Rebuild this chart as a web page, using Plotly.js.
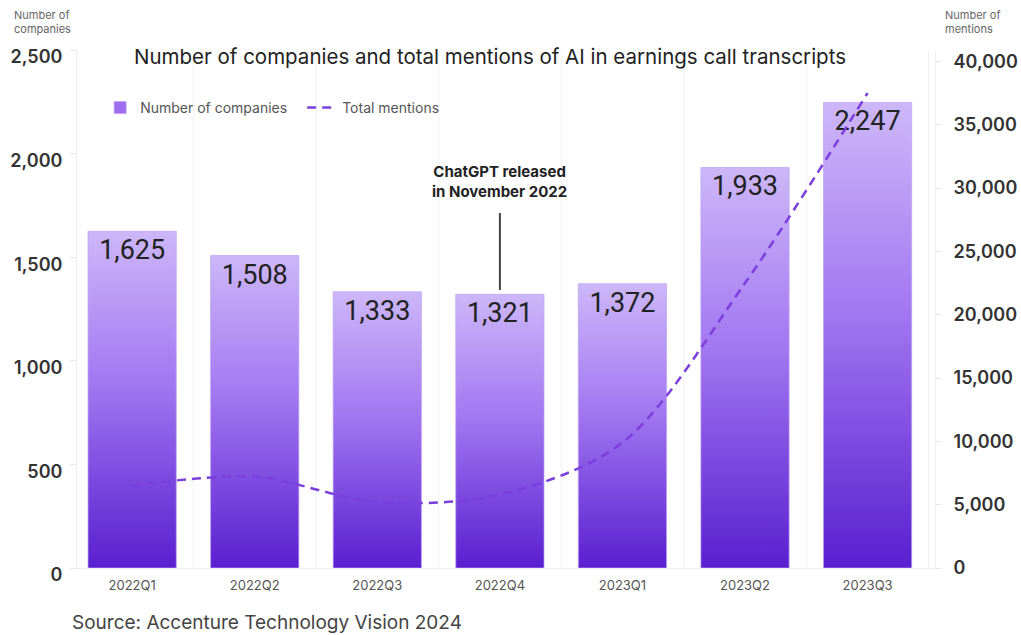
<!DOCTYPE html>
<html>
<head>
<meta charset="utf-8">
<script src="https://cdn.plot.ly/plotly-3.0.1.min.js"></script>
<style>
  html, body { margin: 0; padding: 0; background: #fff; }
  #chart { width: 1021px; height: 635px; }
</style>
</head>
<body>
<div id="chart"></div>
<script>
// data
const quarters = ["2022Q1", "2022Q2", "2022Q3", "2022Q4", "2023Q1", "2023Q2", "2023Q3"];
const companies = [1625, 1508, 1333, 1321, 1372, 1933, 2247];
const mentions = [6500, 7200, 5200, 5800, 9900, 22500, 37500];
const leftTicks = [0, 500, 1000, 1500, 2000, 2500];
const rightTicks = [0, 5000, 10000, 15000, 20000, 25000, 30000, 35000, 40000];

const FONT = "Inter, 'Noto Sans', sans-serif";
const PURPLE = "#7a3fdc";

let barTrace = {
  type: "bar",
  name: "Number of companies",
  x: quarters,
  y: companies,
  marker: { color: "#9d6ef0", line: { width: 1, color: "rgba(190,160,245,0.7)" } },
  texttemplate: "%{y:,}",
  textposition: "inside",
  insidetextanchor: "end",
  textfont: { family: "Roboto, " + FONT, size: 27, color: "#222" },
  hoverinfo: "skip",
};

let lineTrace = {
  type: "scatter",
  mode: "lines",
  name: "Total mentions",
  x: quarters,
  y: mentions,
  yaxis: "y2",
  line: { color: PURPLE, width: 2.5, dash: "9px,6px", shape: "spline", smoothing: 0.9 },
  hoverinfo: "skip",
};

let layout = {
  width: 1021,
  height: 635,
  margin: { l: 77, r: 86, t: 50, b: 67 },
  paper_bgcolor: "#fff",
  plot_bgcolor: "#fff",
  font: { family: FONT, color: "#333" },
  bargap: 0.28,
  showlegend: true,
  title: {
    text: "Number of companies and total mentions of AI in earnings call transcripts",
    font: { family: FONT, size: 20.5, color: "#222" },
    xref: "container",
    x: 490 / 1021,
    xanchor: "center",
    yref: "container",
    y: 1 - 57 / 635,
    yanchor: "middle",
  },
  legend: {
    orientation: "h",
    x: 0.027,
    xanchor: "left",
    y: 0.888,
    yanchor: "middle",
    entrywidth: 157,
    font: { family: FONT, size: 14, color: "#555" },
    bgcolor: "rgba(0,0,0,0)",
  },
  xaxis: {
    type: "category",
    range: [-0.45, 6.55],
    showgrid: true,
    tickson: "boundaries",
    gridcolor: "#f3f3f3",
    ticks: "",
    showline: true,
    linecolor: "#eeeeee",
    tickfont: { family: FONT, size: 13, color: "#555" },
    ticklabelstandoff: 5,
    zeroline: false,
    fixedrange: true,
  },
  yaxis: {
    range: [0, 2500],
    tickvals: leftTicks,
    tickformat: ",",
    showgrid: false,
    zeroline: false,
    showline: true,
    linecolor: "#eeeeee",
    ticks: "outside",
    ticklen: 6,
    tickcolor: "#e6e6e6",
    ticklabelstandoff: 4,
    ticklabelshift: 7,
    tickfont: { family: FONT, size: 18, color: "#333", weight: 600 },
  },
  yaxis2: {
    overlaying: "y",
    side: "right",
    range: [0, 40900],
    tickvals: rightTicks,
    tickformat: ",",
    showgrid: false,
    zeroline: false,
    showline: true,
    linecolor: "#eeeeee",
    ticks: "outside",
    ticklen: 5,
    tickcolor: "#e6e6e6",
    ticklabelstandoff: 9,
    tickfont: { family: FONT, size: 18, color: "#333", weight: 600 },
  },
  shapes: [
    {
      type: "line",
      xref: "x",
      x0: "2022Q4",
      x1: "2022Q4",
      yref: "paper",
      y0: (568 - 290) / 518,
      y1: (568 - 213) / 518,
      line: { color: "#444", width: 2 },
    },
  ],
  annotations: [
    {
      text: "ChatGPT released<br>in November 2022",
      xref: "x",
      x: "2022Q4",
      yref: "paper",
      y: (568 - 181) / 518,
      yanchor: "middle",
      showarrow: false,
      font: { family: FONT, size: 15, color: "#222", weight: 700 },
      align: "center",
    },
    {
      text: "Number of<br>companies",
      xref: "paper",
      x: (12 - 77) / 858,
      xanchor: "left",
      yref: "paper",
      y: (568 - 22) / 518,
      yanchor: "middle",
      align: "left",
      showarrow: false,
      font: { family: FONT, size: 11, color: "#666" },
    },
    {
      text: "Number of<br>mentions",
      xref: "paper",
      x: (943 - 77) / 858,
      xanchor: "left",
      yref: "paper",
      y: (568 - 22) / 518,
      yanchor: "middle",
      align: "left",
      showarrow: false,
      font: { family: FONT, size: 11, color: "#666" },
    },
    {
      text: "Source: Accenture Technology Vision 2024",
      xref: "paper",
      x: (70 - 77) / 858,
      xanchor: "left",
      yref: "paper",
      y: (568 - 622) / 518,
      yanchor: "middle",
      showarrow: false,
      font: { family: FONT, size: 19, color: "#444" },
    },
  ],
};

let config = { staticPlot: true, displayModeBar: false };

// vertical gradient for the bars and their legend swatch
let addGradient = (gd) => {
  const ns = "http://www.w3.org/2000/svg";
  const svg = gd.querySelector("svg.main-svg");
  let defs = svg.querySelector("defs");
  if (!defs) {
    defs = document.createElementNS(ns, "defs");
    svg.insertBefore(defs, svg.firstChild);
  }
  const grad = document.createElementNS(ns, "linearGradient");
  grad.setAttribute("id", "barGrad");
  grad.setAttribute("x1", "0");
  grad.setAttribute("y1", "0");
  grad.setAttribute("x2", "0");
  grad.setAttribute("y2", "1");
  [
    ["0%", "#cdb7f8"],
    ["45%", "#a277f1"],
    ["100%", "#5a1fd0"],
  ].forEach(([offset, color]) => {
    const stop = document.createElementNS(ns, "stop");
    stop.setAttribute("offset", offset);
    stop.setAttribute("stop-color", color);
    grad.appendChild(stop);
  });
  defs.appendChild(grad);
  gd.querySelectorAll(".barlayer .point path").forEach((p) => (p.style.fill = "url(#barGrad)"));
  gd.querySelectorAll(".legend path.legendbar").forEach((p) => (p.style.fill = "url(#barGrad)"));
};

Plotly.newPlot("chart", [barTrace, lineTrace], layout, config).then(addGradient);
</script>
</body>
</html>
